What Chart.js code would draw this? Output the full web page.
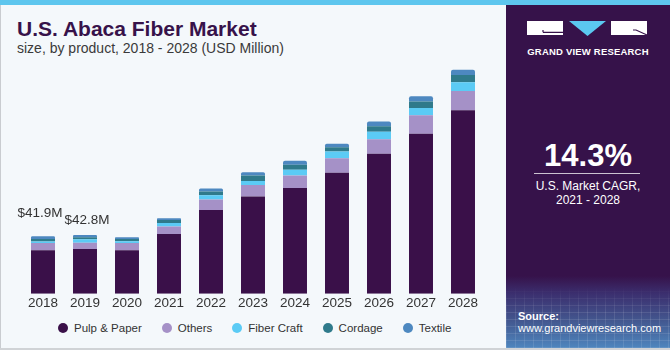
<!DOCTYPE html>
<html>
<head>
<meta charset="utf-8">
<script src="https://cdn.jsdelivr.net/npm/chart.js@4"></script>
<style>
  html, body { margin:0; padding:0; }
  body { width:670px; height:350px; position:relative; overflow:hidden; background:#F4F8FB; font-family:'Liberation Sans', Arial, sans-serif; }
  #stripe { position:absolute; left:0; top:0; width:670px; height:5px; background:#5EC6EE; }
  #lborder { position:absolute; left:0; top:5px; width:1px; height:345px; background:#C9CCD0; }
  #bborder { position:absolute; left:0; top:348px; width:670px; height:2px; background:#D0D3D6; }
  #title { position:absolute; left:17px; top:18px; font-size:21px; line-height:21px; font-weight:bold; color:#37124A; white-space:nowrap; }
  #subtitle { position:absolute; left:17px; top:41px; font-size:14px; line-height:14px; color:#3A3A3A; white-space:nowrap; }
  #chartwrap { position:absolute; left:0; top:0; width:506px; height:318px; }
  #legend { position:absolute; left:58px; top:320px; height:16px; display:flex; align-items:center; font-size:11.5px; color:#333; white-space:nowrap; }
  .li { display:flex; align-items:center; margin-right:20px; }
  .dot { width:10px; height:10px; border-radius:50%; margin-right:6px; }
  #panel { position:absolute; left:506px; top:5px; width:164px; height:343px;
    background:linear-gradient(180deg,#36124A 0%,#36124A 79%,#3B2E6E 84%,#43578F 92%,#4E86BE 100%); overflow:hidden; }
  #grid { position:absolute; left:0; top:282px; width:164px; height:61px;
    background-image:repeating-linear-gradient(90deg, rgba(255,255,255,0.10) 0 1px, transparent 1px 9px),
                     repeating-linear-gradient(0deg, rgba(255,255,255,0.10) 0 1px, transparent 1px 7px);
    -webkit-mask-image:linear-gradient(180deg, transparent 0%, #000 40%); }
  #logo { position:absolute; left:0; top:0; }
  #gvr { position:absolute; left:0; width:164px; top:42px; text-align:center; font-size:9.5px; line-height:10px; font-weight:bold; color:#fff; letter-spacing:0.2px; }
  #cagr { position:absolute; left:0; width:164px; top:134.5px; text-align:center; font-size:31px; line-height:31px; font-weight:bold; color:#fff; }
  #cline { position:absolute; left:28px; top:167.5px; width:106px; height:1px; background:rgba(255,255,255,0.75); }
  #cagrtxt { position:absolute; left:0; width:164px; top:174.3px; text-align:center; font-size:12px; line-height:14px; color:#fff; }
  #source { position:absolute; left:12px; top:304.5px; font-size:11px; line-height:12px; color:#fff; }
</style>
</head>
<body>
<div id="stripe"></div>
<div id="lborder"></div>
<div id="title">U.S. Abaca Fiber Market</div>
<div id="subtitle">size, by product, 2018 - 2028 (USD Million)</div>
<div id="chartwrap"><canvas id="c" width="506" height="318"></canvas></div>
<div id="legend"></div>
<div id="panel">
  <div id="grid"></div>
  <svg id="logo" width="164" height="40" xmlns="http://www.w3.org/2000/svg">
    <rect x="21" y="16" width="36" height="14" fill="#fff"/>
    <path d="M37 27.3 H57 M37 25 V27.3" stroke="#36124A" stroke-width="1.2" fill="none"/>
    <polygon points="63,16 100,16 81.5,31" fill="#5BC8F0"/>
    <rect x="105" y="16" width="36" height="14" fill="#fff"/>
    <path d="M127 25 H130 L141 30" stroke="#36124A" stroke-width="1.2" fill="none"/>
  </svg>
  <div id="gvr">GRAND VIEW RESEARCH</div>
  <div id="cagr">14.3%</div>
  <div id="cline"></div>
  <div id="cagrtxt">U.S. Market CAGR,<br>2021 - 2028</div>
  <div id="source"><b>Source:</b><br>www.grandviewresearch.com</div>
</div>
<div id="bborder"></div>
<script>
const years = ['2018','2019','2020','2021','2022','2023','2024','2025','2026','2027','2028'];
const pulpPaper  = [31.6, 32.6, 31.6, 43.5, 61.0, 70.7, 77.0, 88.0, 101.8, 116.4, 133.4];
const others     = [5.4, 4.6, 5.4, 5.5, 7.5, 8.5, 9.0, 10.6, 10.6, 13.4, 14.1];
const fiberCraft = [1.1, 2.4, 1.2, 2.5, 3.1, 2.9, 4.2, 4.9, 5.4, 5.3, 6.3];
const cordage    = [1.7, 1.5, 1.7, 2.2, 2.7, 3.9, 3.6, 3.1, 4.1, 4.7, 5.3];
const textile    = [2.1, 1.7, 1.2, 1.2, 2.2, 2.4, 2.9, 2.5, 3.4, 3.9, 3.9];
const seriesNames = ['Pulp & Paper','Others','Fiber Craft','Cordage','Textile'];
const seriesColors = ['#3A1049','#A591C7','#5BCBF5','#2F7A8B','#4D88C0'];
const labelledYears = ['2018','2019'];

const seriesData = [pulpPaper, others, fiberCraft, cordage, textile];

// legend
const leg = document.getElementById('legend');
seriesNames.forEach((n,i)=>{
  const d = document.createElement('div'); d.className='li';
  d.innerHTML = '<span class="dot" style="background:'+seriesColors[i]+'"></span><span>'+n+'</span>';
  leg.appendChild(d);
});

const totalsPlugin = {
  id:'totals',
  afterDatasetsDraw(chart){
    const ctx = chart.ctx, xs = chart.scales.x, ys = chart.scales.y;
    ctx.save();
    ctx.font = '13.5px "Liberation Sans", Arial, sans-serif';
    ctx.fillStyle = '#333';
    ctx.textAlign = 'center';
    ctx.textBaseline = 'middle';
    const tweak = [[-3,-23],[2,-15]];
    labelledYears.forEach((y,k)=>{
      const i = years.indexOf(y);
      const tot = seriesData.reduce((s,a)=>s+a[i],0);
      const x = xs.getPixelForValue(i) + tweak[k][0];
      const yy = ys.getPixelForValue(tot) + tweak[k][1];
      ctx.fillText('$'+tot.toFixed(1)+'M', x, yy);
    });
    ctx.restore();
  }
};

new Chart(document.getElementById('c'), {
  type:'bar',
  data:{
    labels: years,
    datasets: seriesNames.map((n,i)=>({
      label:n,
      data:seriesData[i],
      backgroundColor:seriesColors[i],
      borderWidth:0,
      borderRadius: i===4 ? {topLeft:2, topRight:2} : 0,
      borderSkipped: false,
      barPercentage:0.571,
      categoryPercentage:1.0
    }))
  },
  options:{
    responsive:false,
    animation:false,
    devicePixelRatio:1,
    layout:{ padding:{ left:22, right:22, top:60, bottom:6 } },
    plugins:{ legend:{ display:false }, tooltip:{ enabled:false } },
    scales:{
      x:{ stacked:true, grid:{ display:false, drawTicks:false }, border:{ display:false },
          ticks:{ color:'#333', padding:1, font:{ size:13.5, family:'"Liberation Sans", Arial, sans-serif' } } },
      y:{ stacked:true, display:false, min:0, max:170 }
    }
  },
  plugins:[totalsPlugin]
});
</script>
</body>
</html>
